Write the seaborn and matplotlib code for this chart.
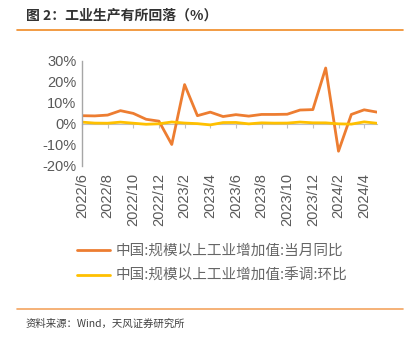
import matplotlib
matplotlib.use("Agg")
import matplotlib.pyplot as plt
import seaborn as sns
import pandas as pd
import numpy as np
from matplotlib.lines import Line2D

months = ["2022/6", "2022/7", "2022/8", "2022/9", "2022/10", "2022/11", "2022/12",
          "2023/1", "2023/2", "2023/3", "2023/4", "2023/5", "2023/6", "2023/7",
          "2023/8", "2023/9", "2023/10", "2023/11", "2023/12",
          "2024/1", "2024/2", "2024/3", "2024/4", "2024/5"]
yoy = [3.9, 3.8, 4.2, 6.3, 5.0, 2.2, 1.3, -9.8, 18.7, 3.9, 5.6, 3.5, 4.4, 3.7,
       4.5, 4.5, 4.6, 6.6, 6.8, 26.6, -13.0, 4.5, 6.7, 5.6]
mom = [0.84, 0.38, 0.32, 0.84, 0.33, -0.18, 0.06, 0.9, 0.4, 0.12, -0.47, 0.63,
       0.68, 0.01, 0.5, 0.36, 0.39, 0.87, 0.52, 0.5, 0.03, -0.11, 0.97, 0.3]
name_yoy = "中国:规模以上工业增加值:当月同比"
name_mom = "中国:规模以上工业增加值:季调:环比"
title = "图 2：工业生产有所回落（%）"
source = "资料来源：Wind，天风证券研究所"

sns.set_style("white")
plt.rcParams['font.family'] = ['Noto Sans CJK SC', 'DejaVu Sans']

c_yoy = "#ED7D31"
c_mom = "#FFC000"
txt = "#595959"

df = pd.DataFrame({
    "idx": list(range(len(months))) * 2,
    "value": yoy + mom,
    "series": [name_yoy] * len(months) + [name_mom] * len(months),
})

fig = plt.figure(figsize=(4.12, 3.40), dpi=100)
ax = fig.add_axes([0.199, 0.512, 0.716, 0.309])
sns.lineplot(data=df, x="idx", y="value", hue="series",
             palette={name_yoy: c_yoy, name_mom: c_mom},
             linewidth=2.0, ax=ax, legend=False)

ax.set_xlim(0, len(months) - 1)
ax.set_ylim(-20, 30)
yt = [-20, -10, 0, 10, 20, 30]
ax.set_yticks(yt)
ax.set_yticklabels([f"{v}%" for v in yt])
tick_idx = list(range(0, len(months), 2))
ax.set_xticks(tick_idx)
ax.set_xticklabels([months[i] for i in tick_idx], rotation=90)
ax.set_xlabel("")
ax.set_ylabel("")
for s in ["top", "right", "bottom"]:
    ax.spines[s].set_visible(False)
ax.spines["left"].set_color("#A6A6A6")
ax.spines["left"].set_linewidth(1.0)
ax.tick_params(axis="y", direction="in", length=4, color="#A6A6A6",
               labelsize=10.5, labelcolor=txt, pad=4)
ax.tick_params(axis="x", length=0, labelsize=10.5, labelcolor=txt, pad=5)
for lab in ax.get_xticklabels() + ax.get_yticklabels():
    lab.set_fontfamily(["Liberation Sans", "DejaVu Sans"])

# zero axis line with ticks
sec = ax.secondary_xaxis(0, transform=ax.transData)
sec.set_xticks(tick_idx)
sec.set_xticklabels([])
sec.spines["bottom"].set_color("#BFBFBF")
sec.tick_params(axis="x", direction="out", length=3, color="#BFBFBF")
ax.set_zorder(2)

# legend
handles = [Line2D([0], [0], color=c_yoy, lw=2), Line2D([0], [0], color=c_mom, lw=2)]
leg = fig.legend(handles, [name_yoy, name_mom], loc="center",
                 bbox_to_anchor=(0.515, 0.226), frameon=False, fontsize=10.5,
                 handlelength=2.3, handletextpad=0.4, labelspacing=0.75)
for t in leg.get_texts():
    t.set_color("#666666")

# title and decorations
fig.text(0.063, 0.955, title, fontsize=10, fontweight="bold", color="#333333",
         ha="left", va="center")
fig.add_artist(Line2D([0.041, 0.978], [0.912, 0.912], color="#F08A24", lw=1.2,
                      transform=fig.transFigure))
fig.add_artist(Line2D([0.041, 0.978], [0.091, 0.091], color="#F4A460", lw=1.2,
                      transform=fig.transFigure))
fig.text(0.063, 0.048, source, fontsize=7.5, color="#404040", ha="left", va="center")

fig.savefig("out.png", dpi=100)
